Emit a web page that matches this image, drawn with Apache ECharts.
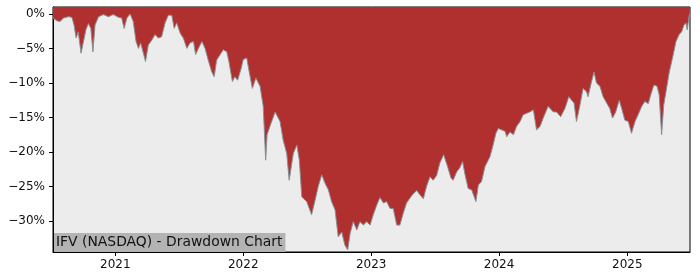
<!DOCTYPE html>
<html><head><meta charset="utf-8">
<script src="https://cdn.jsdelivr.net/npm/echarts@6/dist/echarts.min.js"></script>
<style>html,body{margin:0;padding:0;background:#fff}#c{width:700px;height:280px}</style>
</head><body><div id="c"></div>
<script>
const titleText = 'IFV (NASDAQ) - Drawdown Chart';
const dates = [
'2020-07-07','2020-07-18','2020-07-27','2020-08-06','2020-08-20','2020-08-30','2020-09-05','2020-09-11','2020-09-17','2020-09-25',
'2020-10-02','2020-10-09','2020-10-16','2020-10-23','2020-10-29','2020-11-04','2020-11-14','2020-11-28','2020-12-12','2020-12-26',
'2021-01-10','2021-01-19','2021-01-26','2021-02-03','2021-02-12','2021-02-21','2021-03-01','2021-03-08','2021-03-14','2021-03-22',
'2021-03-28','2021-04-05','2021-04-15','2021-04-24','2021-05-04','2021-05-13','2021-05-23','2021-06-01','2021-06-11','2021-06-18',
'2021-06-25','2021-07-05','2021-07-14','2021-07-24','2021-08-02','2021-08-12','2021-08-18','2021-08-26','2021-09-05','2021-09-14',
'2021-09-23','2021-10-03','2021-10-10','2021-10-17','2021-10-27','2021-11-05','2021-11-15','2021-11-21','2021-12-01','2021-12-08',
'2021-12-16','2021-12-26','2022-01-01','2022-01-11','2022-01-18','2022-01-27','2022-02-06','2022-02-18','2022-02-27','2022-03-06',
'2022-03-10','2022-03-18','2022-04-02','2022-04-16','2022-04-25','2022-05-05','2022-05-12','2022-05-24','2022-06-03','2022-06-10',
'2022-06-17','2022-07-01','2022-07-15','2022-07-25','2022-08-03','2022-08-13','2022-08-22','2022-09-01','2022-09-10','2022-09-20',
'2022-09-29','2022-10-09','2022-10-18','2022-10-26','2022-11-02','2022-11-11','2022-11-21','2022-11-30','2022-12-10','2022-12-19',
'2022-12-29','2023-01-07','2023-01-17','2023-01-26','2023-02-05','2023-02-14','2023-02-24','2023-03-05','2023-03-15','2023-03-24',
'2023-04-03','2023-04-12','2023-04-27','2023-05-11','2023-05-20','2023-05-30','2023-06-08','2023-06-18','2023-06-27','2023-07-07',
'2023-07-16','2023-07-27','2023-08-07','2023-08-17','2023-08-23','2023-09-02','2023-09-11','2023-09-19','2023-09-26','2023-10-05',
'2023-10-15','2023-10-19','2023-10-27','2023-11-03','2023-11-12','2023-11-22','2023-12-06','2023-12-15','2023-12-23','2023-12-30',
'2024-01-08','2024-01-18','2024-01-23','2024-02-01','2024-02-11','2024-02-20','2024-03-01','2024-03-10','2024-03-20','2024-03-29',
'2024-04-08','2024-04-17','2024-04-27','2024-05-06','2024-05-20','2024-06-04','2024-06-13','2024-06-25','2024-07-07','2024-07-18',
'2024-07-26','2024-08-02','2024-08-09','2024-08-17','2024-08-28','2024-09-07','2024-09-11','2024-09-21','2024-09-28','2024-10-05',
'2024-10-15','2024-10-24','2024-11-03','2024-11-12','2024-11-20','2024-11-29','2024-12-09','2024-12-16','2024-12-25','2025-01-04',
'2025-01-13','2025-01-23','2025-02-01','2025-02-11','2025-02-20','2025-03-02','2025-03-09','2025-03-18','2025-03-27','2025-04-02',
'2025-04-09','2025-04-15','2025-04-23','2025-05-01','2025-05-10','2025-05-20','2025-05-29','2025-06-05','2025-06-12','2025-06-17',
'2025-06-21','2025-06-27','2025-06-29'
];
const drawdown = [
-0.6,-1.0,-1.1,-0.6,-0.4,-0.5,-1.6,-3.5,-2.6,-5.7,
-4.0,-2.3,-1.4,-2.1,-5.5,-1.6,-0.4,-0.1,-0.4,-0.1,
-0.5,-0.6,-2.1,-0.6,0,-1.1,-4.0,-5.0,-4.2,-5.7,
-6.9,-4.5,-3.8,-3.0,-3.5,-3.3,-1.3,-0.2,-0.2,-2.1,
-1.3,-2.8,-3.5,-5.0,-4.2,-4.0,-5.9,-5.0,-4.0,-5.0,
-6.7,-8.4,-9.1,-6.7,-5.9,-5.2,-5.5,-6.9,-9.8,-9.1,
-9.6,-7.9,-6.6,-6.4,-8.4,-10.8,-9.3,-10.5,-13.4,-21.2,
-17.5,-16.3,-14.2,-15.6,-18.3,-20.2,-24.1,-20.2,-19.0,-21.2,
-26.5,-27.2,-29.1,-27.0,-25.0,-23.3,-24.5,-25.5,-27.2,-28.4,
-32.3,-31.6,-33.5,-34.2,-31.8,-30.1,-31.3,-30.1,-30.6,-30.1,
-30.6,-29.1,-27.7,-26.6,-27.4,-27.2,-28.2,-28.2,-30.6,-30.6,
-28.8,-27.4,-26.3,-25.6,-26.2,-26.8,-25.0,-23.6,-24.1,-23.4,
-21.6,-20.4,-22.1,-23.8,-24.1,-22.9,-22.3,-21.4,-23.3,-25.3,
-25.5,-25.3,-27.2,-24.8,-24.3,-22.1,-20.7,-19.0,-17.3,-16.6,
-16.8,-17.0,-17.8,-17.1,-17.5,-16.3,-15.6,-14.6,-14.4,-14.2,
-13.9,-16.8,-16.3,-15.1,-13.4,-14.2,-14.2,-14.9,-13.7,-12.0,
-12.5,-12.9,-15.6,-13.7,-10.8,-11.3,-12.0,-9.8,-8.4,-10.0,
-10.5,-12.0,-12.9,-13.7,-15.1,-14.2,-12.5,-13.7,-15.4,-15.6,
-17.3,-15.6,-14.6,-13.4,-12.7,-13.0,-11.7,-10.3,-10.5,-11.7,
-17.5,-13.2,-10.8,-8.4,-6.4,-4.0,-3.0,-2.6,-1.6,-1.3,
-2.3,-0.1,0
];
const yTicks = [0,-5,-10,-15,-20,-25,-30];
const xTickYears = [2021,2022,2023,2024,2025];

function toTs(s){const p=s.split('-');return Date.UTC(+p[0],+p[1]-1,+p[2]);}
const seriesData = dates.map((d,i)=>[toTs(d),drawdown[i]]);
const xTicks = xTickYears.map(y=>Date.UTC(y,0,1));
const font = 'DejaVu Sans';

const chart = echarts.init(document.getElementById('c'),null,{renderer:'canvas'});
chart.setOption({
  animation:false,
  backgroundColor:'#ffffff',
  title:{
    text:titleText,left:54,top:233,padding:[2,3,2,2],
    backgroundColor:'#b3b3b3',
    textStyle:{fontFamily:font,fontSize:13.9,fontWeight:'normal',color:'#111',lineHeight:15}
  },
  grid:{left:53,right:10,top:7,bottom:28,show:true,backgroundColor:'#ececec',borderColor:'#000',borderWidth:1,containLabel:false},
  xAxis:{
    type:'value',min:toTs(dates[0]),max:toTs(dates[dates.length-1]),scale:true,
    axisLine:{show:true,onZero:false,lineStyle:{color:'#000',width:1}},
    axisTick:{show:true,customValues:xTicks,length:4,lineStyle:{color:'#000'}},
    axisLabel:{customValues:xTicks,formatter:v=>String(new Date(v).getUTCFullYear()),fontFamily:font,fontSize:12,color:'#111',margin:7},
    splitLine:{show:false}
  },
  yAxis:{
    type:'value',min:-34.5,max:1.0,
    axisLine:{show:true,lineStyle:{color:'#000',width:1}},
    axisTick:{show:true,customValues:yTicks,length:4,lineStyle:{color:'#000'}},
    axisLabel:{customValues:yTicks,formatter:v=>(v<0?'\u2212':'')+Math.abs(v)+'%',fontFamily:font,fontSize:12,color:'#111',margin:8},
    splitLine:{show:false}
  },
  series:[{
    type:'line',data:seriesData,showSymbol:false,symbol:'none',
    lineStyle:{color:'#8a8f94',width:1},
    areaStyle:{color:'#b03030',opacity:1,origin:'end'}
  }]
});
</script></body></html>
